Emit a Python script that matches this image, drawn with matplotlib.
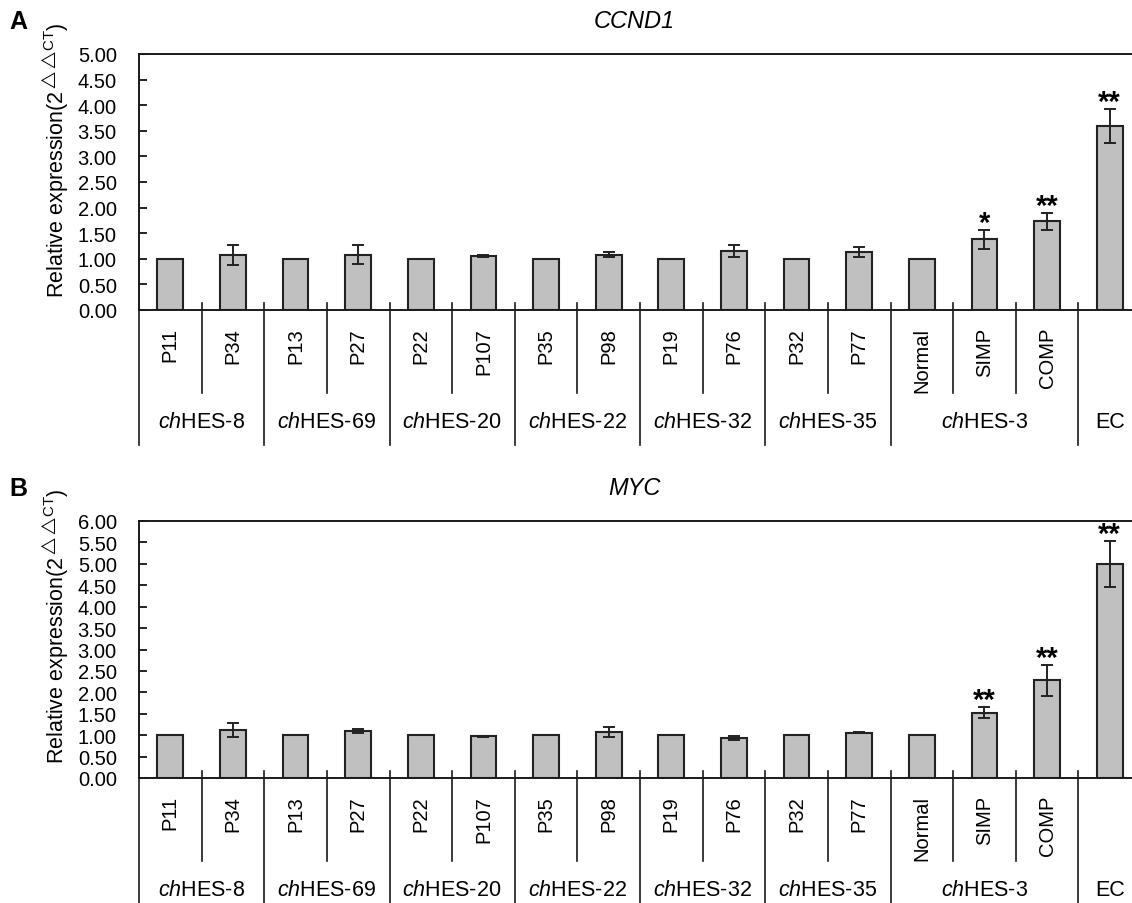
import numpy as np
import matplotlib
matplotlib.use("Agg")
import matplotlib.pyplot as plt
from matplotlib.transforms import blended_transform_factory

plt.rcParams['font.family'] = ['Liberation Sans', 'DejaVu Sans']
plt.rcParams['mathtext.fontset'] = 'custom'
plt.rcParams['mathtext.rm'] = 'Liberation Sans'
plt.rcParams['mathtext.it'] = 'Liberation Sans:italic'

# categories and groups
cats = ['P11', 'P34', 'P13', 'P27', 'P22', 'P107', 'P35', 'P98', 'P19', 'P76',
        'P32', 'P77', 'Normal', 'SIMP', 'COMP', '']
groups = ['$\\it{ch}$HES-8', '$\\it{ch}$HES-69', '$\\it{ch}$HES-20', '$\\it{ch}$HES-22',
          '$\\it{ch}$HES-32', '$\\it{ch}$HES-35', '$\\it{ch}$HES-3', 'EC']
group_bounds = [0, 2, 4, 6, 8, 10, 12, 15, 16]

# panel A: CCND1
ccnd1 = [1.00, 1.07, 1.00, 1.08, 1.00, 1.05, 1.00, 1.08, 1.00, 1.15, 1.00, 1.13, 1.00, 1.38, 1.73, 3.60]
ccnd1_err = [0, 0.20, 0, 0.19, 0, 0.02, 0, 0.05, 0, 0.12, 0, 0.10, 0, 0.18, 0.16, 0.33]
ccnd1_sig = ['', '', '', '', '', '', '', '', '', '', '', '', '', '*', '**', '**']

# panel B: MYC
myc = [1.00, 1.12, 1.00, 1.09, 1.00, 0.97, 1.00, 1.07, 1.00, 0.93, 1.00, 1.06, 1.00, 1.52, 2.28, 5.00]
myc_err = [0, 0.16, 0, 0.05, 0, 0.02, 0, 0.12, 0, 0.05, 0, 0.02, 0, 0.13, 0.36, 0.53]
myc_sig = ['', '', '', '', '', '', '', '', '', '', '', '', '', '**', '**', '**']

W, H = 1132, 904
fig = plt.figure(figsize=(W / 100, H / 100), dpi=100)


def panel(top, bottom, vals, errs, sig, ymax, title, letter, label_y):
    left, right = 139, 1141
    ax = fig.add_axes([left / W, 1 - bottom / H, (right - left) / W, (bottom - top) / H])
    hpx = bottom - top
    x = np.arange(len(vals))
    vals = np.array(vals)
    errs = np.array(errs)
    ax.bar(x, vals, width=0.41, color='#c0c0c0', edgecolor='#222222', linewidth=1.5, zorder=2)
    m = errs > 0
    ax.errorbar(x[m], vals[m], yerr=errs[m], fmt='none', ecolor='#222222',
                elinewidth=1.4, capsize=4.5, capthick=1.4, zorder=3)
    for i in range(len(vals)):
        if sig[i]:
            ax.annotate(sig[i], (x[i], vals[i] + errs[i]), xytext=(0, -0.5),
                        textcoords='offset points', ha='center', va='baseline',
                        fontsize=21, fontweight='bold', color='black')
    ax.set_xlim(-0.5, len(vals) - 0.5)
    ax.set_ylim(0, ymax)
    ax.set_yticks(np.arange(0, ymax + 0.01, 0.5))
    ax.set_yticklabels(['%.2f' % v for v in np.arange(0, ymax + 0.01, 0.5)])
    ax.tick_params(axis='y', direction='in', length=6, width=1.2, labelsize=14.5, pad=16)
    ax.tick_params(axis='x', bottom=False, labelbottom=False)
    ax.spines['right'].set_visible(False)
    for s in ['left', 'top', 'bottom']:
        ax.spines[s].set_linewidth(1.4)
        ax.spines[s].set_color('#1a1a1a')

    tr = blended_transform_factory(ax.transData, ax.transAxes)
    up = 7 / hpx
    # separators between categories
    for b in range(1, len(vals)):
        if b in group_bounds:
            continue
        ax.plot([b - 0.5, b - 0.5], [up, -83 / hpx], transform=tr, color='#1a1a1a',
                lw=1.2, clip_on=False)
    for b in group_bounds:
        ax.plot([b - 0.5, b - 0.5], [up if b > 0 else 0, -135 / hpx], transform=tr,
                color='#1a1a1a', lw=1.2, clip_on=False)
    for i, c in enumerate(cats):
        ax.text(i, -17 / hpx, c, transform=tr, rotation=90, ha='center', va='top',
                fontsize=14.5)
    for g, a, b in zip(groups, group_bounds[:-1], group_bounds[1:]):
        ax.text((a + b - 1) / 2, -112 / hpx, g, transform=tr, ha='center', va='center',
                fontsize=15.5)

    fig.text(634 / W, 1 - (top - 33) / H, title, ha='center', va='center',
             fontsize=17, style='italic')
    fig.text(18 / W, 1 - (top - 33) / H, letter, ha='center', va='center',
             fontsize=18, fontweight='bold')
    fig.text(55 / W, 1 - label_y / H, r'Relative expression(2$^{\triangle\!\triangle\!\mathrm{CT}}$)',
             rotation=90, ha='center', va='center', fontsize=15.5)
    return ax


panel(55, 311, ccnd1, ccnd1_err, ccnd1_sig, 5.0, 'CCND1', 'A', 160)
panel(522, 779, myc, myc_err, myc_sig, 6.0, 'MYC', 'B', 626)

fig.savefig('out.png', dpi=100)
